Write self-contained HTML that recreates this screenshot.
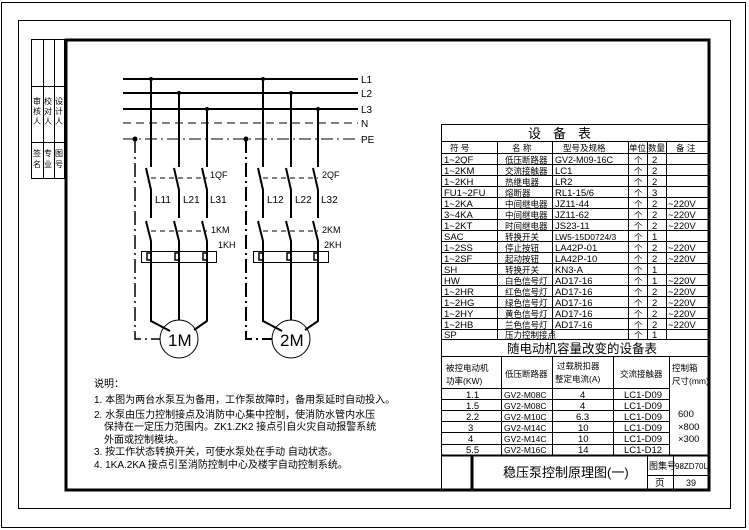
<!DOCTYPE html>
<html><head><meta charset="utf-8">
<style>
html,body{margin:0;padding:0;background:#fff;}
svg{display:block;}
text{font-family:"Liberation Sans","Noto Sans CJK SC",sans-serif;fill:#000;}
.t{font-size:9.5px;}
.c{font-size:8.5px;}
</style></head><body>
<svg width="749" height="530" viewBox="0 0 749 530" xmlns="http://www.w3.org/2000/svg">
<rect x="0" y="0" width="749" height="530" fill="#fff"/>
<rect x="1.5" y="2.5" width="744" height="525" fill="none" stroke="#000" stroke-width="1"/>
<rect x="18.5" y="20.5" width="712" height="488" fill="none" stroke="#000" stroke-width="1"/>
<rect x="66" y="40" width="643" height="450" fill="none" stroke="#000" stroke-width="3"/>
<g stroke="#000" stroke-width="1" fill="none">
<rect x="31.5" y="39.5" width="33" height="139"/>
<line x1="43.5" y1="39.5" x2="43.5" y2="178.5"/>
<line x1="54.5" y1="39.5" x2="54.5" y2="178.5"/>
<line x1="31.5" y1="86.5" x2="64.5" y2="86.5"/>
<line x1="31.5" y1="142.5" x2="64.5" y2="142.5"/>
</g>
<g font-size="8">
<text x="33" y="104">审</text><text x="33" y="114">核</text><text x="33" y="124">人</text>
<text x="44" y="104">校</text><text x="44" y="114">对</text><text x="44" y="124">人</text>
<text x="55" y="104">设</text><text x="55" y="114">计</text><text x="55" y="124">人</text>
<text x="33" y="156">签</text><text x="33" y="167">名</text>
<text x="44" y="156">专</text><text x="44" y="167">业</text>
<text x="55" y="156">图</text><text x="55" y="167">号</text>
</g>

<g stroke="#000" fill="none">
<line x1="123" y1="79" x2="358" y2="79" stroke-width="2"/>
<line x1="123" y1="93" x2="358" y2="93" stroke-width="2"/>
<line x1="123" y1="109" x2="358" y2="109" stroke-width="2"/>
<line x1="123" y1="123" x2="358" y2="123" stroke-width="1" stroke-dasharray="8,5"/>
<line x1="123" y1="139" x2="358" y2="139" stroke-width="1" stroke-dasharray="12,4,2,4"/>
</g>
<g font-size="10">
<text x="361" y="83">L1</text><text x="361" y="97">L2</text><text x="361" y="113">L3</text>
<text x="361" y="127">N</text><text x="361" y="143">PE</text>
</g>
<g fill="#000">
<circle cx="151" cy="79" r="2"/><circle cx="179" cy="93" r="2"/><circle cx="207" cy="109" r="2"/>
<circle cx="263" cy="79" r="2"/><circle cx="291" cy="93" r="2"/><circle cx="318" cy="109" r="2"/>
<circle cx="135" cy="139" r="2.5"/><circle cx="246" cy="139" r="2.5"/>
</g>

<g stroke="#000" stroke-width="2" fill="none">
<path d="M151 79 V167 M146 168 L151 190 V218 M146 221 L151 241 V321 L170 331"/>
<path d="M179 93 V167 M174 168 L179 190 V218 M174 221 L179 241 V320"/>
<path d="M207 109 V167 M202 168 L207 190 V218 M202 221 L207 241 V321 L194 330"/>
<path d="M263 79 V167 M258 168 L263 190 V218 M258 221 L263 241 V321 L282 331"/>
<path d="M291 93 V167 M286 168 L291 190 V218 M286 221 L291 241 V320"/>
<path d="M318 109 V167 M313 168 L318 190 V218 M313 221 L318 241 V321 L305 330"/>
<path d="M135 139 V339 H160" stroke-dasharray="14,4,2,4" stroke-width="1.5"/>
<path d="M246 139 V339 H272" stroke-dasharray="14,4,2,4" stroke-width="2"/>
</g>
<g stroke="#000" stroke-width="1" fill="none">
<line x1="151" y1="178" x2="207" y2="178" stroke-dasharray="5,4"/>
<line x1="151" y1="231" x2="207" y2="231" stroke-dasharray="5,4"/>
<line x1="263" y1="178" x2="318" y2="178" stroke-dasharray="5,4"/>
<line x1="263" y1="231" x2="318" y2="231" stroke-dasharray="5,4"/>
<rect x="141.5" y="251.5" width="75" height="11"/>
<rect x="253.5" y="251.5" width="75" height="11"/>
<circle cx="179" cy="339" r="19"/>
<circle cx="291" cy="339" r="19"/>
</g>
<g stroke="#000" stroke-width="1.5" fill="none">
<path d="M151 253 h-4 v7 h4"/><path d="M179 253 h-4 v7 h4"/><path d="M207 253 h-4 v7 h4"/>
<path d="M263 253 h-4 v7 h4"/><path d="M291 253 h-4 v7 h4"/><path d="M318 253 h-4 v7 h4"/>
</g>
<g font-size="10">
<text x="155" y="203">L11</text><text x="183" y="203">L21</text><text x="210" y="203">L31</text>
<text x="267" y="203">L12</text><text x="295" y="203">L22</text><text x="321" y="203">L32</text>
<text x="210" y="178" font-size="9">1QF</text><text x="322" y="178" font-size="9">2QF</text>
<text x="211" y="233" font-size="9">1KM</text><text x="322" y="233" font-size="9">2KM</text>
<text x="218" y="248" font-size="9">1KH</text><text x="324" y="248" font-size="9">2KH</text>
<text x="168" y="346" font-size="17">1M</text><text x="280" y="346" font-size="17">2M</text>
</g>

<g font-size="10">
<text x="94" y="387">说明：</text>
<text x="94" y="403">1. 本图为两台水泵互为备用，工作泵故障时，备用泵延时自动投入。</text>
<text x="94" y="418">2. 水泵由压力控制接点及消防中心集中控制，使消防水管内水压</text>
<text x="104" y="430">保持在一定压力范围内。ZK1.ZK2 接点引自火灾自动报警系统</text>
<text x="104" y="443">外面或控制模块。</text>
<text x="94" y="455">3. 按工作状态转换开关，可使水泵处在手动 自动状态。</text>
<text x="94" y="468">4. 1KA.2KA 接点引至消防控制中心及楼宇自动控制系统。</text>
</g>

<g stroke="#000" stroke-width="1" fill="none">
<rect x="441.5" y="124.5" width="268" height="366"/>
<line x1="441" y1="141.5" x2="710" y2="141.5"/>
<line x1="441" y1="153.5" x2="710" y2="153.5"/>
<line x1="441" y1="164.5" x2="710" y2="164.5"/>
<line x1="441" y1="175.5" x2="710" y2="175.5"/>
<line x1="441" y1="186.5" x2="710" y2="186.5"/>
<line x1="441" y1="197.5" x2="710" y2="197.5"/>
<line x1="441" y1="208.5" x2="710" y2="208.5"/>
<line x1="441" y1="219.5" x2="710" y2="219.5"/>
<line x1="441" y1="230.5" x2="710" y2="230.5"/>
<line x1="441" y1="241.5" x2="710" y2="241.5"/>
<line x1="441" y1="252.5" x2="710" y2="252.5"/>
<line x1="441" y1="263.5" x2="710" y2="263.5"/>
<line x1="441" y1="274.5" x2="710" y2="274.5"/>
<line x1="441" y1="285.5" x2="710" y2="285.5"/>
<line x1="441" y1="296.5" x2="710" y2="296.5"/>
<line x1="441" y1="307.5" x2="710" y2="307.5"/>
<line x1="441" y1="318.5" x2="710" y2="318.5"/>
<line x1="441" y1="329.5" x2="710" y2="329.5"/>
<line x1="441" y1="339.5" x2="710" y2="339.5"/>
<line x1="497.5" y1="141" x2="497.5" y2="339"/>
<line x1="552.5" y1="141" x2="552.5" y2="339"/>
<line x1="628.5" y1="141" x2="628.5" y2="339"/>
<line x1="647.5" y1="141" x2="647.5" y2="339"/>
<line x1="666.5" y1="141" x2="666.5" y2="339"/>
<line x1="441" y1="356.5" x2="710" y2="356.5"/>
<line x1="441" y1="388.5" x2="669" y2="388.5"/>
<line x1="441" y1="399.5" x2="669" y2="399.5"/>
<line x1="441" y1="410.5" x2="669" y2="410.5"/>
<line x1="441" y1="421.5" x2="669" y2="421.5"/>
<line x1="441" y1="432.5" x2="669" y2="432.5"/>
<line x1="441" y1="444.5" x2="669" y2="444.5"/>
<line x1="501.5" y1="356" x2="501.5" y2="455"/>
<line x1="552.5" y1="356" x2="552.5" y2="455"/>
<line x1="613.5" y1="356" x2="613.5" y2="455"/>
<line x1="669.5" y1="356" x2="669.5" y2="455"/>
</g>
<line x1="441" y1="455.5" x2="710" y2="455.5" stroke="#000" stroke-width="2"/>
<line x1="472" y1="455" x2="472" y2="491" stroke="#000" stroke-width="3"/>
<g stroke="#000" stroke-width="1">
<line x1="647.5" y1="455" x2="647.5" y2="490"/>
<line x1="673.5" y1="455" x2="673.5" y2="490"/>
<line x1="647" y1="475.5" x2="710" y2="475.5"/>
</g>
<text x="528" y="138" font-size="13" letter-spacing="12">设备表</text>
<g class="c">
<text x="450" y="151">符 号</text><text x="512" y="151">名 称</text><text x="563" y="151">型号及规格</text>
<text x="629" y="151">单位</text><text x="648" y="151">数量</text><text x="676" y="151">备 注</text>
</g>
<g class="t" textLength="0">
<text x="444" y="163">1~2QF</text><text x="444" y="174">1~2KM</text><text x="444" y="185">1~2KH</text><text x="444" y="196">FU1~2FU</text>
<text x="444" y="207">1~2KA</text><text x="444" y="218">3~4KA</text><text x="444" y="229">1~2KT</text><text x="444" y="240">SAC</text>
<text x="444" y="251">1~2SS</text><text x="444" y="262">1~2SF</text><text x="444" y="273">SH</text><text x="444" y="284">HW</text>
<text x="444" y="295">1~2HR</text><text x="444" y="306">1~2HG</text><text x="444" y="317">1~2HY</text><text x="444" y="328">1~2HB</text>
<text x="444" y="338">SP</text>
<text x="555" y="163" font-size="9">GV2-M09-16C</text><text x="555" y="174">LC1</text><text x="555" y="185">LR2</text><text x="555" y="196">RL1-15/6</text>
<text x="555" y="207">JZ11-44</text><text x="555" y="218">JZ11-62</text><text x="555" y="229">JS23-11</text><text x="555" y="240" font-size="8.5">LW5-15D0724/3</text>
<text x="555" y="251">LA42P-01</text><text x="555" y="262">LA42P-10</text><text x="555" y="273">KN3-A</text><text x="555" y="284">AD17-16</text>
<text x="555" y="295">AD17-16</text><text x="555" y="306">AD17-16</text><text x="555" y="317">AD17-16</text><text x="555" y="328">AD17-16</text>
<text x="652" y="163">2</text><text x="652" y="174">2</text><text x="652" y="185">2</text><text x="652" y="196">3</text>
<text x="652" y="207">2</text><text x="652" y="218">2</text><text x="652" y="229">2</text><text x="652" y="240">1</text>
<text x="652" y="251">2</text><text x="652" y="262">2</text><text x="652" y="273">1</text><text x="652" y="284">1</text>
<text x="652" y="295">2</text><text x="652" y="306">2</text><text x="652" y="317">2</text><text x="652" y="328">2</text><text x="652" y="338">1</text>
<text x="668" y="207">~220V</text><text x="668" y="218">~220V</text><text x="668" y="229">~220V</text>
<text x="668" y="251">~220V</text><text x="668" y="262">~220V</text><text x="668" y="284">~220V</text>
<text x="668" y="295">~220V</text><text x="668" y="306">~220V</text><text x="668" y="317">~220V</text><text x="668" y="328">~220V</text>
</g>
<g class="c">
<text x="505" y="163">低压断路器</text><text x="505" y="174">交流接触器</text><text x="505" y="185">热继电器</text><text x="505" y="196">熔断器</text>
<text x="505" y="207">中间继电器</text><text x="505" y="218">中间继电器</text><text x="505" y="229">时间继电器</text><text x="505" y="240">转换开关</text>
<text x="505" y="251">停止按钮</text><text x="505" y="262">起动按钮</text><text x="505" y="273">转换开关</text><text x="505" y="284">白色信号灯</text>
<text x="505" y="295">红色信号灯</text><text x="505" y="306">绿色信号灯</text><text x="505" y="317">黄色信号灯</text><text x="505" y="328">兰色信号灯</text>
<text x="505" y="338">压力控制接点</text>
<text x="634" y="163">个</text><text x="634" y="174">个</text><text x="634" y="185">个</text><text x="634" y="196">个</text>
<text x="634" y="207">个</text><text x="634" y="218">个</text><text x="634" y="229">个</text><text x="634" y="240">个</text>
<text x="634" y="251">个</text><text x="634" y="262">个</text><text x="634" y="273">个</text><text x="634" y="284">个</text>
<text x="634" y="295">个</text><text x="634" y="306">个</text><text x="634" y="317">个</text><text x="634" y="328">个</text><text x="634" y="338">个</text>
</g>
<text x="507" y="353" font-size="12.5">随电动机容量改变的设备表</text>
<g class="c">
<text x="446" y="371">被控电动机</text><text x="446" y="384">功率(KW)</text>
<text x="505" y="377">低压断路器</text>
<text x="557" y="369">过载脱扣器</text><text x="555" y="382">整定电流(A)</text>
<text x="620" y="377">交流接触器</text>
<text x="672" y="371">控制箱</text><text x="672" y="384">尺寸(mm)</text>
</g>
<g class="t">
<text x="466" y="398">1.1</text><text x="466" y="409">1.5</text><text x="466" y="420">2.2</text><text x="468" y="431">3</text><text x="468" y="442">4</text><text x="466" y="453">5.5</text>
<g font-size="8.5">
<text x="504" y="398">GV2-M08C</text><text x="504" y="409">GV2-M08C</text><text x="504" y="420">GV2-M10C</text><text x="504" y="431">GV2-M14C</text><text x="504" y="442">GV2-M14C</text><text x="504" y="453">GV2-M16C</text>
</g>
<text x="580" y="398">4</text><text x="580" y="409">4</text><text x="576" y="420">6.3</text><text x="578" y="431">10</text><text x="578" y="442">10</text><text x="578" y="453">14</text>
<text x="624" y="398">LC1-D09</text><text x="624" y="409">LC1-D09</text><text x="624" y="420">LC1-D09</text><text x="624" y="431">LC1-D09</text><text x="624" y="442">LC1-D09</text><text x="624" y="453">LC1-D12</text>
<text x="678" y="417">600</text><text x="678" y="430">×800</text><text x="678" y="442">×300</text>
</g>
<text x="503" y="477" font-size="13">稳压泵控制原理图(一)</text>
<text x="649" y="469" font-size="9">图集号</text>
<text x="675" y="469" font-size="8">98ZD70L</text>
<text x="655" y="486" font-size="9.5">页</text>
<text x="686" y="486" font-size="9">39</text>
</svg>
</body></html>
